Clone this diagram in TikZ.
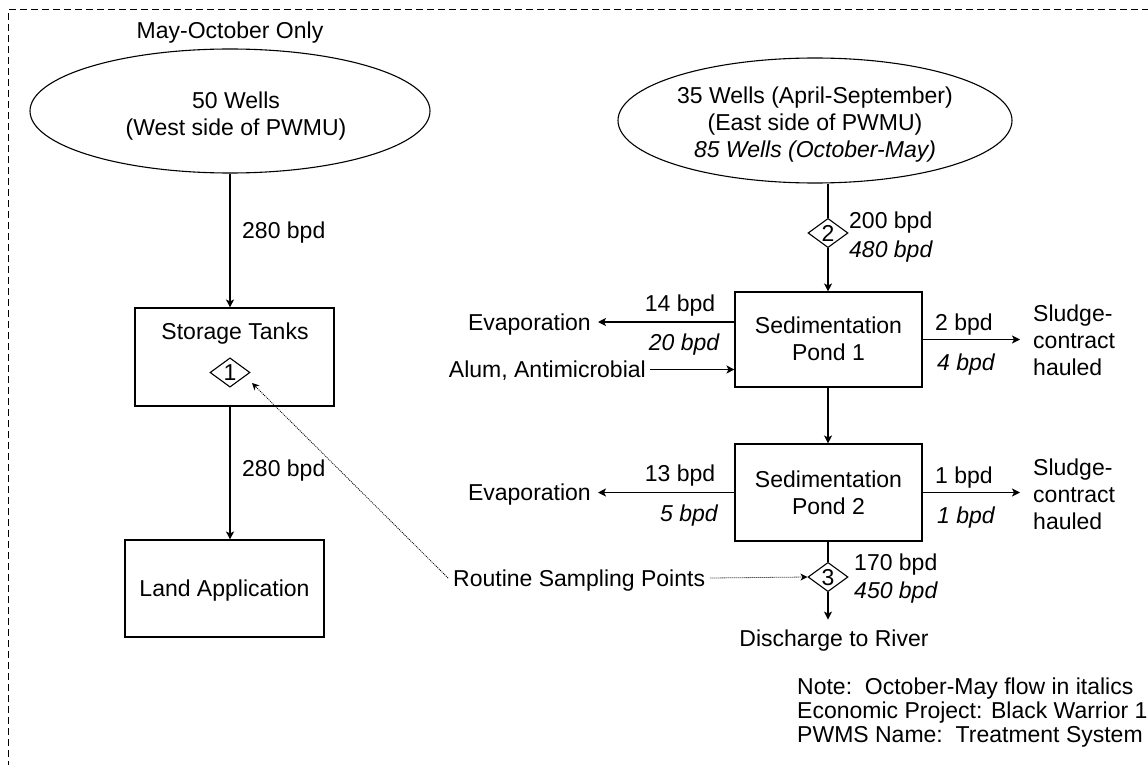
\documentclass[tikz,border=0pt]{standalone}
\usepackage{fontspec}
\setmainfont{Liberation Sans}
\usetikzlibrary{shapes.geometric,arrows.meta}
\begin{document}
\begin{tikzpicture}[x=1pt,y=-1pt,
  every node/.style={font=\fontsize{23}{27}\selectfont, inner sep=0pt, text height=16.5pt, text depth=0pt},
  box/.style={draw, line width=1.1pt, rectangle, align=center},
  well/.style={draw, ellipse, line width=1.1pt},
  dia/.style={draw, diamond, line width=1.1pt, minimum width=40pt, minimum height=29pt, inner sep=0pt, fill=white},
  flow/.style={line width=1.1pt, -{Stealth[length=8pt,width=8pt,inset=2pt]}},
  plain/.style={line width=1.1pt},
  samp/.style={line width=0.8pt, dash pattern=on 1pt off 1pt, -{Stealth[length=7pt,width=7pt,inset=2pt]}},
  border/.style={line width=1pt, dash pattern=on 7pt off 4pt},
  num/.style={anchor=west},
  it/.style={font=\fontsize{23}{27}\selectfont\itshape},
]
\useasboundingbox (0,0) rectangle (1148,765);
\clip (0,0) rectangle (1148,765);
\draw[border] (8,790) -- (8,10) -- (1170,10);

% left column (multi-line nodes are placed by their last line)
\node (may) at (230,30) {May-October Only};
\node[well, minimum width=400pt, minimum height=124pt] (w1) at (230,111) {};
\node[align=center] (w1t) at (236,127) {50 Wells\\(West side of PWMU)};
\node[box, minimum width=199pt, minimum height=98pt] (st) at (234.5,357) {};
\node (stt) at (235,331) {Storage Tanks};
\node[dia] (d1) at (230,372.5) {1};
\node[box, minimum width=199pt, minimum height=97pt] (la) at (224.5,588.5) {Land Application};
\draw[flow] (w1.south) -- (w1.south |- st.north);
\node[num] (f1) at (242,230) {280 bpd};
\draw[flow] (w1.south |- st.south) -- (w1.south |- la.north);
\node[num] (f2) at (242,468) {280 bpd};

% right column
\node[well, minimum width=394pt, minimum height=125pt] (w2) at (815,120.5) {};
\node[align=center] (w2t) at (815,149) {35 Wells (April-September)\\(East side of PWMU)\\\itshape 85 Wells (October-May)};
\node[dia] (d2) at (828,233) {2};
\draw[plain] (d2.north |- w2.south) -- (d2.north);
\node[num] (f3) at (849,220) {200 bpd};
\node[num, it] (f3i) at (849,249) {480 bpd};
\node[box, minimum width=187pt, minimum height=95pt] (p1) at (828.5,339.5) {};
\node[align=center] (p1t) at (828.5,352.5) {Sedimentation\\Pond 1};
\draw[flow] (d2.south) -- (d2.south |- p1.north);

\node[anchor=east, inner xsep=7pt] (ev1) at (598,322) {Evaporation};
\draw[flow] (p1.west |- ev1) -- (ev1.east);
\node (e1) at (680,303) {14 bpd};
\node[it] (e1i) at (684,342) {20 bpd};
\node[anchor=east, inner xsep=4pt] (al) at (650,369.5) {Alum, Antimicrobial};
\draw[flow] (al.east) -- (p1.west |- al.east);

\node[anchor=west, align=left, inner xsep=13pt] (sl1) at (1020,367) {Sludge-\\contract\\hauled};
\draw[flow] (p1.east) -- (p1.east -| sl1.west);
\node[num] (s1) at (935,322) {2 bpd};
\node[num, it] (s1i) at (937,362) {4 bpd};

\node[box, minimum width=187pt, minimum height=97pt] (p2) at (828.5,492.5) {};
\node[align=center] (p2t) at (828.5,506.5) {Sedimentation\\Pond 2};
\draw[flow] (d2.south |- p1.south) -- (d2.south |- p2.north);

\node[anchor=east, inner xsep=7pt] (ev2) at (598,492.5) {Evaporation};
\draw[flow] (p2.west |- ev2) -- (ev2.east);
\node (e2) at (680,473) {13 bpd};
\node[it] (e2i) at (689,513) {5 bpd};

\node[anchor=west, align=left, inner xsep=13pt] (sl2) at (1020,521) {Sludge-\\contract\\hauled};
\draw[flow] (p2.east) -- (p2.east -| sl2.west);
\node[num] (s2) at (935,475) {1 bpd};
\node[num, it] (s2i) at (937,515) {1 bpd};

\node[dia] (d3) at (828,577) {3};
\draw[plain] (d3.north |- p2.south) -- (d3.north);
\node[num] (f4) at (854,562) {170 bpd};
\node[num, it] (f4i) at (854,590) {450 bpd};
\node[inner ysep=10pt] (dis) at (834,638) {Discharge to River};
\draw[flow] (d3.south) -- (d3.south |- dis.north);

\node[anchor=west, inner xsep=5pt] (rsp) at (448,578) {Routine Sampling Points};
\draw[samp] (rsp.east) -- (d3.west);
\coordinate (tip1) at (252,383);
\draw[samp] (rsp.west) -- (tip1);

\node[anchor=west, align=left, font=\fontsize{23}{24}\selectfont] (note) at (797,734) {Note:\ \ October-May flow in italics\\Economic Project: Black Warrior 1\\PWMS Name:\ \ Treatment System};
\end{tikzpicture}
\end{document}
